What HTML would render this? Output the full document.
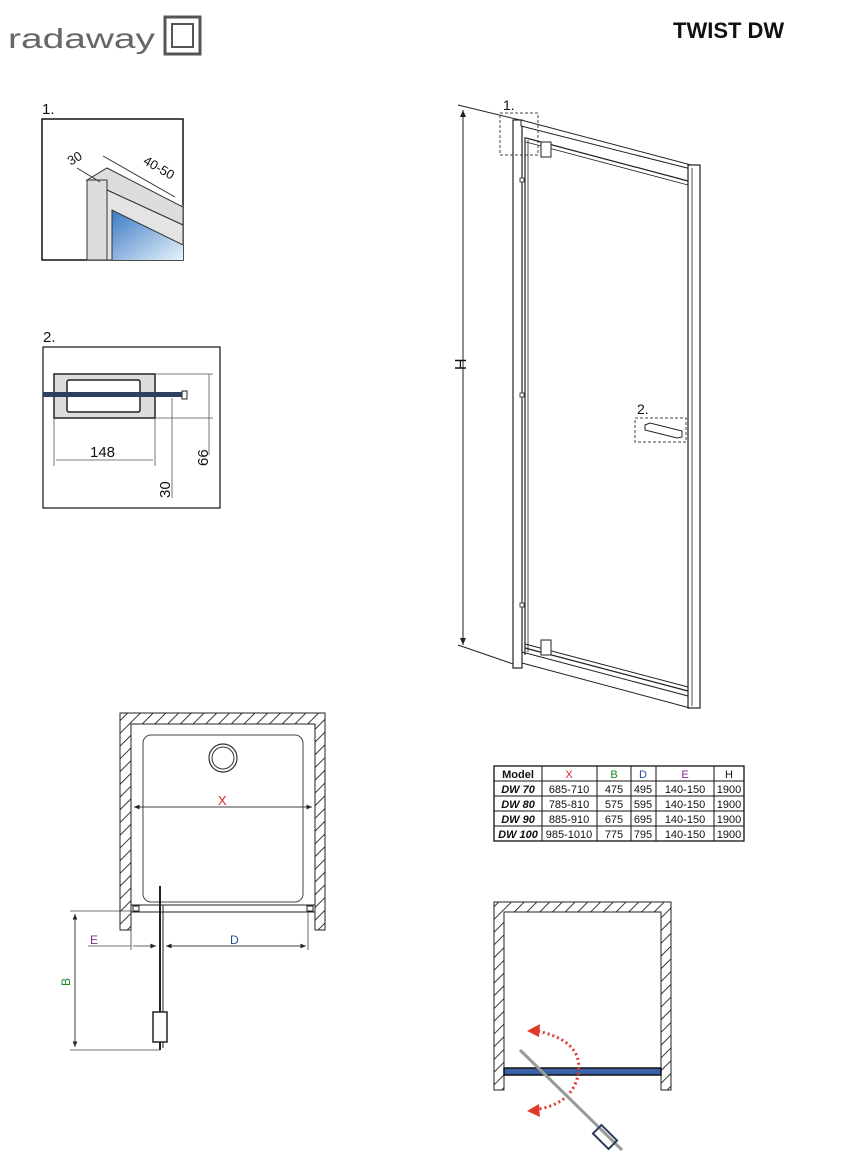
<!DOCTYPE html>
<html><head><meta charset="utf-8"><style>
body{margin:0;background:#fff;}
svg{display:block;font-family:"Liberation Sans",sans-serif;}
</style></head><body>
<svg width="848" height="1165" viewBox="0 0 848 1165" xmlns="http://www.w3.org/2000/svg">
<defs>
<pattern id="h" patternUnits="userSpaceOnUse" width="9" height="9" patternTransform="rotate(45)">
<rect width="9" height="9" fill="#fff"/><line x1="0" y1="0" x2="0" y2="9" stroke="#222" stroke-width="1.8"/></pattern>
<linearGradient id="bl" x1="0" y1="0" x2="1" y2="1"><stop offset="0" stop-color="#2a6fc0"/><stop offset="1" stop-color="#e8f2fb"/></linearGradient>
<marker id="ar" markerWidth="8" markerHeight="8" refX="7" refY="4" orient="auto"><path d="M0,1 L7,4 L0,7 Z" fill="#222"/></marker>
</defs>
<!-- logo -->
<text x="8" y="48" font-size="28" fill="#666" textLength="147" lengthAdjust="spacingAndGlyphs">radaway</text>
<rect x="165" y="17" width="35" height="37" fill="none" stroke="#555" stroke-width="3"/>
<rect x="172" y="24" width="21" height="23" fill="none" stroke="#555" stroke-width="2"/>
<text x="673" y="38" font-size="22" font-weight="bold" fill="#111">TWIST DW</text>

<!-- detail 1 -->
<text x="42" y="114" font-size="15" fill="#111">1.</text>
<rect x="42" y="119" width="141" height="141" fill="#fff" stroke="#111" stroke-width="1.5"/>
<rect x="107" y="205" width="76" height="55" fill="url(#bl)"/>
<rect x="87" y="180" width="20" height="80" fill="#ddd" stroke="#333"/>
<polygon points="87,180 107,168 183,207 183,225 107,190 107,180" fill="#ddd" stroke="#333"/>
<polygon points="107,190 183,225 183,245 112,210 112,260 107,260" fill="#e4e4e4" stroke="#333"/>
<line x1="77" y1="168" x2="100" y2="182" stroke="#333"/>
<line x1="103" y1="156" x2="175" y2="197" stroke="#333"/>
<text x="68" y="160" font-size="13" fill="#111" transform="rotate(-30 80 158)">30</text>
<text x="140" y="168" font-size="13" fill="#111" transform="rotate(30 150 170)">40-50</text>

<!-- detail 2 -->
<text x="43" y="342" font-size="15" fill="#111">2.</text>
<rect x="43" y="347" width="177" height="161" fill="#fff" stroke="#111" stroke-width="1.2"/>
<rect x="54" y="374" width="101" height="44" fill="#ddd" stroke="#222" stroke-width="1.5"/>
<rect x="67" y="380" width="73" height="32" rx="2" fill="#fff" stroke="#222" stroke-width="1.5"/>
<rect x="43" y="392" width="141" height="5" fill="#2f3f60"/>
<rect x="182" y="391" width="5" height="8" fill="#fff" stroke="#222"/>
<line x1="155" y1="374" x2="213" y2="374" stroke="#555" stroke-width="0.8"/>
<line x1="155" y1="418" x2="213" y2="418" stroke="#555" stroke-width="0.8"/>
<line x1="209" y1="374" x2="209" y2="418" stroke="#555" stroke-width="0.8"/>
<line x1="209" y1="418" x2="209" y2="455" stroke="#555" stroke-width="0.8"/>
<line x1="54" y1="418" x2="54" y2="466" stroke="#555" stroke-width="0.8"/>
<line x1="155" y1="418" x2="155" y2="466" stroke="#555" stroke-width="0.8"/>
<line x1="56" y1="460" x2="153" y2="460" stroke="#555" stroke-width="0.8"/>
<line x1="172" y1="398" x2="172" y2="498" stroke="#555" stroke-width="0.8"/>
<text x="90" y="457" font-size="15" fill="#111">148</text>
<text x="208" y="466" font-size="15" fill="#111" transform="rotate(-90 208 466)">66</text>
<text x="170" y="498" font-size="15" fill="#111" transform="rotate(-90 170 498)">30</text>

<!-- big door -->
<line x1="458" y1="105" x2="520" y2="120" stroke="#222"/>
<line x1="458" y1="645" x2="516" y2="665" stroke="#222"/>
<line x1="463" y1="645" x2="463" y2="110" stroke="#222" marker-end="url(#ar)"/>
<line x1="463" y1="110" x2="463" y2="645" stroke="#222" marker-end="url(#ar)"/>
<text x="458" y="378" font-size="16" fill="#111" transform="rotate(-90 458 370)">H</text>
<rect x="513" y="120" width="9" height="548" fill="#fff" stroke="#222" stroke-width="1.2"/>
<line x1="525" y1="137" x2="525" y2="655" stroke="#222" stroke-width="1.2"/>
<line x1="528" y1="140" x2="528" y2="652" stroke="#222" stroke-width="0.8"/>
<polygon points="521,120 695,166 695,170 521,126" fill="#fff" stroke="#222"/>
<line x1="526" y1="138" x2="688" y2="181" stroke="#222" stroke-width="1.2"/>
<line x1="526" y1="142" x2="688" y2="185" stroke="#222" stroke-width="0.8"/>
<rect x="688" y="165" width="12" height="543" fill="#fff" stroke="#222" stroke-width="1.2"/>
<line x1="692" y1="168" x2="692" y2="706" stroke="#222" stroke-width="0.8"/>
<line x1="525" y1="644" x2="688" y2="687" stroke="#222"/>
<line x1="525" y1="648" x2="688" y2="691" stroke="#222" stroke-width="1.2"/>
<line x1="522" y1="652" x2="688" y2="696" stroke="#222"/>
<line x1="522" y1="663" x2="690" y2="708" stroke="#222"/>
<rect x="541" y="142" width="10" height="15" fill="#fff" stroke="#222"/>
<rect x="541" y="640" width="10" height="15" fill="#fff" stroke="#222"/>
<rect x="520" y="178" width="4" height="4" fill="#fff" stroke="#222" stroke-width="0.8"/>
<rect x="520" y="603" width="4" height="4" fill="#fff" stroke="#222" stroke-width="0.8"/>
<rect x="520" y="393" width="4" height="4" fill="#fff" stroke="#222" stroke-width="0.8"/>
<rect x="500" y="113" width="38" height="42" fill="none" stroke="#444" stroke-dasharray="3,2"/>
<text x="503" y="110" font-size="14" fill="#111">1.</text>
<rect x="635" y="418" width="51" height="24" fill="none" stroke="#444" stroke-dasharray="3,2"/>
<text x="637" y="414" font-size="14" fill="#111">2.</text>
<polygon points="645,425 650,423 682,431 682,437 677,438 645,430" fill="#fff" stroke="#222"/>

<!-- plan left -->
<path d="M120,713 H325 V930 H315 V724 H131 V930 H120 Z" fill="url(#h)" stroke="#222"/>
<rect x="131" y="724" width="184" height="188" fill="#fff" stroke="#222"/>
<rect x="143" y="735" width="160" height="167" rx="8" fill="#fff" stroke="#444"/>
<circle cx="223" cy="758" r="14" fill="#fff" stroke="#333" stroke-width="1.2"/>
<circle cx="223" cy="758" r="11" fill="#fff" stroke="#333"/>
<line x1="134" y1="807" x2="312" y2="807" stroke="#333" stroke-width="0.8" marker-end="url(#ar)"/>
<line x1="312" y1="807" x2="134" y2="807" stroke="#333" stroke-width="0.8" marker-end="url(#ar)"/>
<text x="218" y="805" font-size="13" fill="#d23">X</text>
<rect x="131" y="905" width="184" height="7" fill="#fff" stroke="#222"/>
<rect x="133" y="906" width="6" height="5" fill="#fff" stroke="#222"/>
<rect x="307" y="906" width="6" height="5" fill="#fff" stroke="#222"/>
<line x1="160" y1="886" x2="160" y2="1050" stroke="#222" stroke-width="2"/>
<line x1="163" y1="905" x2="163" y2="1048" stroke="#222" stroke-width="1"/>
<rect x="153" y="1012" width="14" height="30" fill="#fff" stroke="#222" stroke-width="1.5"/>
<line x1="70" y1="911" x2="131" y2="911" stroke="#444" stroke-width="0.8"/>
<line x1="70" y1="1050" x2="160" y2="1050" stroke="#444" stroke-width="0.8"/>
<line x1="75" y1="914" x2="75" y2="1047" stroke="#333" stroke-width="0.8" marker-end="url(#ar)"/>
<line x1="75" y1="1047" x2="75" y2="914" stroke="#333" stroke-width="0.8" marker-end="url(#ar)"/>
<text x="70" y="986" font-size="12" fill="#1a8a2a" transform="rotate(-90 70 986)">B</text>
<line x1="131" y1="930" x2="131" y2="950" stroke="#444" stroke-width="0.8"/>
<line x1="308" y1="912" x2="308" y2="950" stroke="#444" stroke-width="0.8"/>
<line x1="88" y1="946" x2="131" y2="946" stroke="#444" stroke-width="0.8"/>
<line x1="133" y1="946" x2="156" y2="946" stroke="#333" stroke-width="0.8" marker-end="url(#ar)"/>
<line x1="166" y1="946" x2="306" y2="946" stroke="#333" stroke-width="0.8" marker-end="url(#ar)"/>
<line x1="306" y1="946" x2="166" y2="946" stroke="#333" stroke-width="0.8" marker-end="url(#ar)"/>
<text x="90" y="944" font-size="12" fill="#8b2a8f">E</text>
<text x="230" y="944" font-size="12" fill="#2a4a9a">D</text>

<!-- table -->
<g font-size="11" fill="#111" text-anchor="middle">
<rect x="494" y="766" width="250" height="75" fill="#fff" stroke="#111" stroke-width="1.3"/>
<line x1="494" y1="781" x2="744" y2="781" stroke="#111"/>
<line x1="494" y1="796" x2="744" y2="796" stroke="#111"/>
<line x1="494" y1="811" x2="744" y2="811" stroke="#111"/>
<line x1="494" y1="826" x2="744" y2="826" stroke="#111"/>
<line x1="542" y1="766" x2="542" y2="841" stroke="#111"/>
<line x1="597" y1="766" x2="597" y2="841" stroke="#111"/>
<line x1="631" y1="766" x2="631" y2="841" stroke="#111"/>
<line x1="656" y1="766" x2="656" y2="841" stroke="#111"/>
<line x1="714" y1="766" x2="714" y2="841" stroke="#111"/>
<text x="518" y="778" font-weight="bold">Model</text>
<text x="569" y="778" fill="#d23">X</text><text x="614" y="778" fill="#1a8a2a">B</text><text x="643" y="778" fill="#2a4a9a">D</text><text x="685" y="778" fill="#8b2a8f">E</text><text x="729" y="778">H</text>
<g font-weight="bold" font-style="italic"><text x="518" y="793">DW 70</text><text x="518" y="808">DW 80</text><text x="518" y="823">DW 90</text><text x="518" y="838">DW 100</text></g>
<text x="569" y="793">685-710</text><text x="569" y="808">785-810</text><text x="569" y="823">885-910</text><text x="569" y="838">985-1010</text>
<text x="614" y="793">475</text><text x="614" y="808">575</text><text x="614" y="823">675</text><text x="614" y="838">775</text>
<text x="643" y="793">495</text><text x="643" y="808">595</text><text x="643" y="823">695</text><text x="643" y="838">795</text>
<text x="685" y="793">140-150</text><text x="685" y="808">140-150</text><text x="685" y="823">140-150</text><text x="685" y="838">140-150</text>
<text x="729" y="793">1900</text><text x="729" y="808">1900</text><text x="729" y="823">1900</text><text x="729" y="838">1900</text>
</g>

<!-- plan right -->
<path d="M494,902 H671 V1090 H661 V912 H504 V1090 H494 Z" fill="url(#h)" stroke="#222"/>
<rect x="504" y="1068" width="157" height="7" fill="#3a62a8" stroke="#111" stroke-width="1.5"/>
<path d="M533,1030 Q585,1040 578,1075 Q572,1105 533,1110" fill="none" stroke="#e0392b" stroke-width="3" stroke-dasharray="2,3"/>
<path d="M527,1031 L540,1024 L539,1037 Z" fill="#e0392b"/>
<path d="M527,1111 L539,1104 L540,1117 Z" fill="#e0392b"/>
<line x1="520" y1="1050" x2="622" y2="1150" stroke="#999" stroke-width="3"/>
<g transform="rotate(45 605 1137)"><rect x="594" y="1131" width="22" height="12" fill="none" stroke="#2a3a5a" stroke-width="2"/></g>
</svg>
</body></html>
